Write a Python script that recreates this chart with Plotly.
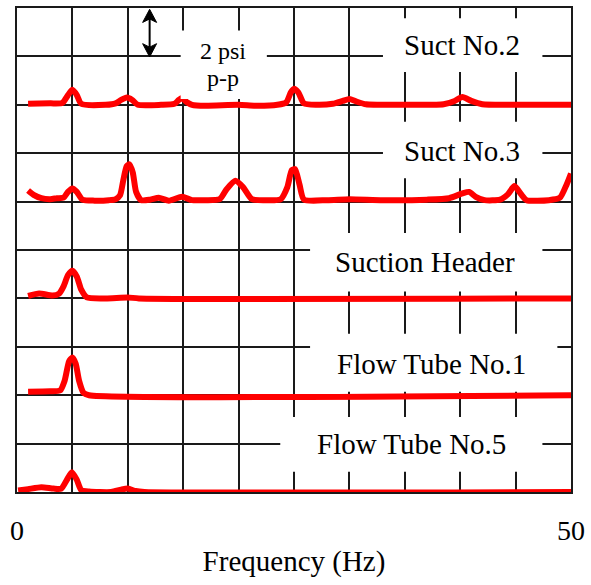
import plotly.graph_objects as go

# Spectra (frequency in Hz, amplitude in grid units above each trace's baseline)
FREQ_SUCT2 = [1.0, 3.0, 4.1, 4.6, 5.0, 5.4, 5.8, 8.0, 8.9, 9.4, 9.9, 10.4, 10.9, 13.0, 14.2,
              14.6, 14.9, 15.3, 15.8, 17.0, 20.0, 21.5, 23.5, 24.3, 24.7, 25.0, 25.4, 25.9,
              27.0, 28.5, 29.4, 30.0, 30.6, 31.5, 35.0, 38.5, 39.5, 40.2, 41.0, 42.0, 45.0, 50.0]
AMP_SUCT2 = [0.02, 0.03, 0.04, 0.2, 0.31, 0.2, 0.02, 0.0, 0.03, 0.1, 0.15, 0.1, 0.0, 0.0, 0.02,
             0.1, 0.14, 0.06, 0.0, -0.02, 0.0, -0.02, 0.0, 0.05, 0.25, 0.33, 0.25, 0.03,
             0.0, 0.02, 0.08, 0.12, 0.07, 0.01, 0.0, 0.01, 0.08, 0.16, 0.08, 0.01, 0.0, 0.0]

FREQ_SUCT3 = [1.0, 1.5, 2.2, 3.0, 3.6, 4.2, 4.6, 5.0, 5.4, 5.9, 7.0, 8.3, 8.9, 9.3, 9.6, 9.9,
              10.15, 10.45, 10.75, 11.2, 12.0, 12.8, 13.7, 14.9, 15.8, 17.0, 18.3, 18.9, 19.7,
              20.4, 21.2, 22.5, 23.8, 24.4, 24.8, 25.1, 25.5, 25.9, 28.0, 30.0, 33.0, 37.0,
              39.0, 40.2, 40.8, 41.4, 42.2, 43.6, 44.3, 44.9, 45.5, 46.0, 48.0, 49.0, 49.6, 50.0]
AMP_SUCT3 = [0.23, 0.14, 0.07, 0.05, 0.07, 0.08, 0.2, 0.27, 0.2, 0.04, 0.02, 0.03, 0.05, 0.13,
             0.45, 0.73, 0.77, 0.6, 0.2, 0.03, 0.04, 0.08, 0.02, 0.1, 0.03, 0.03, 0.05, 0.25,
             0.43, 0.3, 0.05, 0.03, 0.05, 0.3, 0.65, 0.67, 0.35, 0.04, 0.03, 0.05, 0.03, 0.04,
             0.07, 0.17, 0.2, 0.1, 0.03, 0.04, 0.15, 0.32, 0.15, 0.03, 0.03, 0.08, 0.35, 0.58]

FREQ_HEADER = [1.0, 2.0, 3.2, 3.8, 4.2, 4.6, 5.0, 5.4, 5.8, 6.3, 8.0, 10.0, 11.0, 50.0]
AMP_HEADER = [0.05, 0.1, 0.06, 0.1, 0.25, 0.48, 0.57, 0.45, 0.18, 0.02, 0.0, 0.02, 0.0, 0.0]

FREQ_TUBE1 = [1.0, 3.0, 3.9, 4.3, 4.7, 5.0, 5.3, 5.6, 6.0, 6.5, 50.0]
AMP_TUBE1 = [0.07, 0.08, 0.1, 0.3, 0.7, 0.78, 0.65, 0.3, 0.05, 0.0, 0.0]

FREQ_TUBE5 = [0.1, 1.0, 2.2, 3.3, 4.0, 4.5, 4.95, 5.4, 5.8, 6.5, 8.5, 9.4, 10.0, 10.7, 11.5, 50.0]
AMP_TUBE5 = [0.03, 0.06, 0.1, 0.07, 0.07, 0.25, 0.41, 0.25, 0.04, 0.01, 0.0, 0.05, 0.07, 0.02, 0.0, 0.0]

TRACE_NAMES = ["Suct No.2", "Suct No.3", "Suction Header", "Flow Tube No.1", "Flow Tube No.5"]
BASELINES = [8, 6, 4, 2, 0]
SERIES = [(FREQ_SUCT2, AMP_SUCT2), (FREQ_SUCT3, AMP_SUCT3), (FREQ_HEADER, AMP_HEADER),
          (FREQ_TUBE1, AMP_TUBE1), (FREQ_TUBE5, AMP_TUBE5)]

X_TICKS = list(range(0, 51, 5))
X_TICK_TEXT = ["0"] + [""] * 9 + ["50"]
Y_TICKS = list(range(0, 11))

FONT = "Liberation Serif, Times New Roman, serif"

fig = go.Figure()
for name, base, (f, a) in zip(TRACE_NAMES, BASELINES, SERIES):
    fig.add_trace(go.Scatter(
        x=f, y=[base + v for v in a], mode="lines", name=name,
        line=dict(color="#ff0000", width=6, shape="spline", smoothing=0.6),
        showlegend=False, hoverinfo="skip",
    ))

# white label boxes that interrupt the grid: (x0, x1, y0, y1) in data units
label_boxes = [
    (14.77, 22.55, 8.12, 9.535),
    (33.03, 47.42, 8.68, 9.79),
    (33.03, 47.42, 6.48, 7.65),
    (26.45, 47.42, 4.14, 5.35),
    (26.45, 48.77, 2.07, 3.27),
    (23.76, 47.42, 0.42, 1.55),
]
shapes = [dict(type="rect", xref="x", yref="y", x0=x0, x1=x1, y0=y0, y1=y1,
               fillcolor="white", line=dict(width=0), layer="above")
          for x0, x1, y0, y1 in label_boxes]

# double-headed "2 psi p-p" scale arrow: shaft plus two swept heads
ax_c, ax_hw = 11.97, 0.63
top_tip, top_corner, top_notch = 9.973, 9.702, 9.774
bot_tip, bot_corner, bot_notch = 8.988, 9.263, 9.191
shapes.append(dict(type="line", xref="x", yref="y", x0=ax_c, x1=ax_c, y0=top_notch, y1=bot_notch,
                   line=dict(color="black", width=2), layer="above"))
for tip, corner, notch in [(top_tip, top_corner, top_notch), (bot_tip, bot_corner, bot_notch)]:
    shapes.append(dict(
        type="path", xref="x", yref="y", layer="above", fillcolor="black",
        line=dict(color="black", width=1),
        path=f"M {ax_c},{tip} L {ax_c + ax_hw},{corner} L {ax_c},{notch} L {ax_c - ax_hw},{corner} Z",
    ))

label_pos = [(40.18, 9.24), (40.15, 7.05), (36.86, 4.76), (37.44, 2.65), (35.58, 0.99)]
annotations = [dict(x=x, y=y, xref="x", yref="y", text=t, showarrow=False,
                    font=dict(family=FONT, size=29, color="black"))
               for t, (x, y) in zip(TRACE_NAMES, label_pos)]
annotations += [
    dict(x=18.57, y=9.12, xref="x", yref="y", text="2 psi", showarrow=False,
         font=dict(family=FONT, size=24, color="black")),
    dict(x=18.57, y=8.56, xref="x", yref="y", text="p-p", showarrow=False,
         font=dict(family=FONT, size=24, color="black")),
]

axis_common = dict(showgrid=True, gridcolor="#1a1a1a", gridwidth=1.5, zeroline=False,
                   showline=True, linecolor="#1a1a1a", linewidth=2, mirror=True)

fig.update_layout(
    width=591, height=585,
    margin=dict(l=17, r=17, t=6, b=93),
    paper_bgcolor="white", plot_bgcolor="white",
    font=dict(family=FONT, color="black"),
    shapes=shapes, annotations=annotations,
    xaxis=dict(range=[0, 50], tickmode="array", tickvals=X_TICKS, ticktext=X_TICK_TEXT,
               ticks="", ticklabelstandoff=12, tickfont=dict(family=FONT, size=28, color="black"),
               title=dict(text="Frequency (Hz)", font=dict(family=FONT, size=29, color="black"),
                          standoff=6),
               **axis_common),
    yaxis=dict(range=[0, 10], tickmode="array", tickvals=Y_TICKS, showticklabels=False,
               ticks="", **axis_common),
)

fig.write_html("out.html")
